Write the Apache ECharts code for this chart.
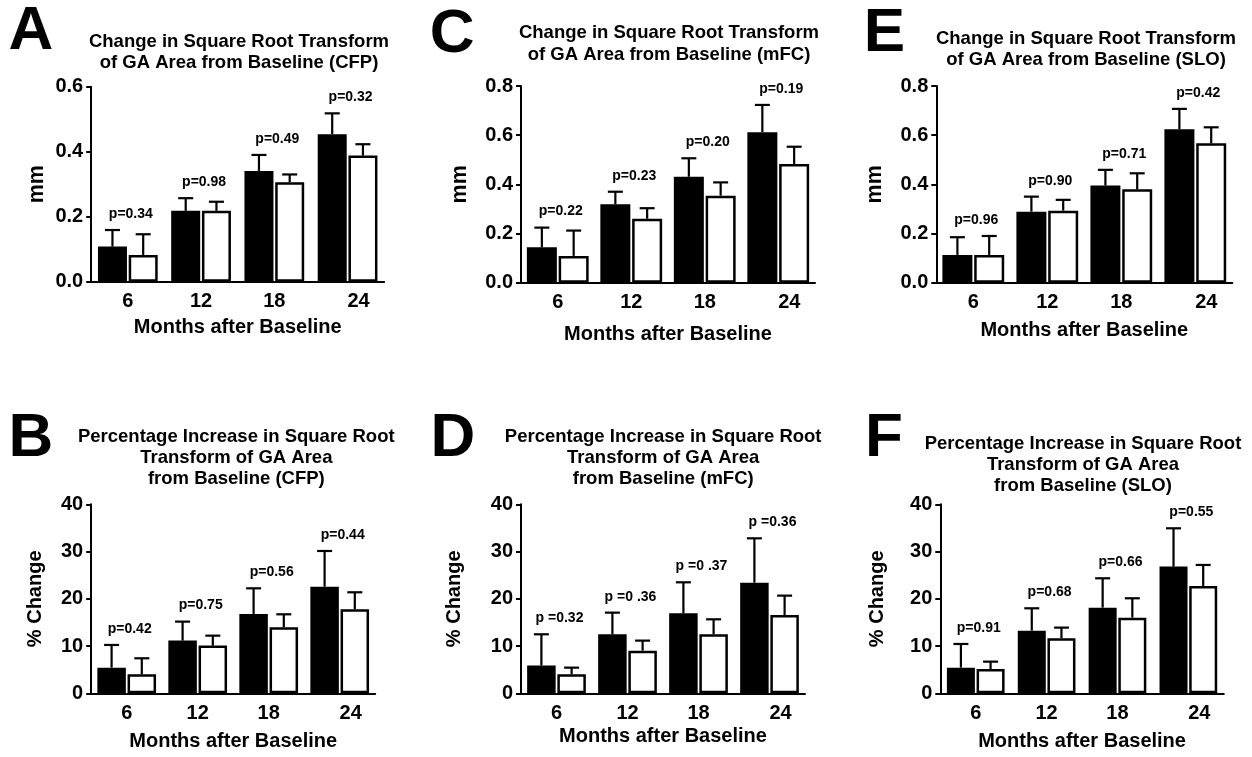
<!DOCTYPE html>
<html><head><meta charset="utf-8">
<script src="https://cdn.jsdelivr.net/npm/echarts@6/dist/echarts.min.js"></script>
<style>html,body{margin:0;padding:0;background:#fff}#c{width:1252px;height:757px}</style>
</head><body><div id="c"></div>
<script>
// ---------- DATA ----------
const months = ['6', '12', '18', '24'];

// Panel A: Change in sqrt GA area (CFP), mm
const aBlack   = [0.108, 0.218, 0.341, 0.454];
const aBlackSD = [0.051, 0.039, 0.049, 0.064];
const aWhite   = [0.082, 0.218, 0.306, 0.388];
const aWhiteSD = [0.064, 0.028, 0.024, 0.035];
const aP = ['p=0.34', 'p=0.98', 'p=0.49', 'p=0.32'];

// Panel C: (mFC), mm
const cBlack   = [0.144, 0.319, 0.431, 0.612];
const cBlackSD = [0.080, 0.051, 0.075, 0.111];
const cWhite   = [0.109, 0.260, 0.354, 0.483];
const cWhiteSD = [0.103, 0.043, 0.054, 0.070];
const cP = ['p=0.22', 'p=0.23', 'p=0.20', 'p=0.19'];

// Panel E: (SLO), mm
const eBlack   = [0.113, 0.289, 0.395, 0.624];
const eBlackSD = [0.072, 0.061, 0.064, 0.083];
const eWhite   = [0.113, 0.293, 0.380, 0.567];
const eWhiteSD = [0.077, 0.044, 0.065, 0.065];
const eP = ['p=0.96', 'p=0.90', 'p=0.71', 'p=0.42'];

// Panel B: % change (CFP)
const bBlack   = [5.43, 11.15, 16.79, 22.57];
const bBlackSD = [4.80, 4.02, 5.43, 7.55];
const bWhite   = [4.02, 10.09, 13.97, 17.78];
const bWhiteSD = [3.39, 2.11, 2.75, 3.60];
const bP = ['p=0.42', 'p=0.75', 'p=0.56', 'p=0.44'];

// Panel D: % change (mFC)
const dBlack   = [5.86, 12.49, 16.93, 23.42];
const dBlackSD = [6.63, 4.58, 6.56, 9.38];
const dWhite   = [4.02, 9.03, 12.49, 16.58];
const dWhiteSD = [1.41, 2.12, 3.17, 4.09];
const dP = ['p =0.32', 'p =0 .36', 'p =0 .37', 'p =0.36'];

// Panel F: % change (SLO)
const fBlack   = [5.43, 13.26, 18.13, 26.81];
const fBlackSD = [5.01, 4.73, 6.21, 8.11];
const fWhite   = [5.15, 11.64, 16.01, 22.72];
const fWhiteSD = [1.55, 2.26, 4.10, 4.44];
const fP = ['p=0.91', 'p=0.68', 'p=0.66', 'p=0.55'];

const titleTop = 'Change in Square Root Transform\nof GA Area from Baseline ';
const titleBot = 'Percentage Increase in Square Root\nTransform of GA Area\nfrom Baseline ';
const xName = 'Months after Baseline';

// ---------- LAYOUT ----------
const FONT = '"Liberation Sans", Arial, Helvetica, sans-serif';
const panels = [
  {letter:'A', title: titleTop + '(CFP)', black:aBlack, blackSD:aBlackSD, white:aWhite, whiteSD:aWhiteSD, p:aP,
   grid:{left:91.2, top:86.7, width:293, height:195}, max:0.6, interval:0.2, dec:1, yName:'mm', ySize:21.5, yGap:43, xGap:36,
   tx:239, ty:52.5, lx:30.8, ly:32.2, bw:29},
  {letter:'C', title: titleTop + '(mFC)', black:cBlack, blackSD:cBlackSD, white:cWhite, whiteSD:cWhiteSD, p:cP,
   grid:{left:521, top:86, width:294, height:196.7}, max:0.8, interval:0.2, dec:1, yName:'mm', ySize:21.5, yGap:50, xGap:41.6,
   tx:669, ty:43.8, lx:452.2, ly:34.5, bw:30},
  {letter:'E', title: titleTop + '(SLO)', black:eBlack, blackSD:eBlackSD, white:eWhite, whiteSD:eWhiteSD, p:eP,
   grid:{left:936.3, top:86, width:296, height:196.7}, max:0.8, interval:0.2, dec:1, yName:'mm', ySize:21.5, yGap:50, xGap:38,
   tx:1086, ty:49.2, lx:884.5, ly:34.3, bw:30},
  {letter:'B', title: titleBot + '(CFP)', black:bBlack, blackSD:bBlackSD, white:bWhite, whiteSD:bWhiteSD, p:bP,
   grid:{left:91.2, top:504.3, width:284, height:189}, max:40, interval:10, dec:0, yName:'% Change', ySize:20, yGap:45.7, xGap:38,
   tx:236.3, ty:458, lx:31, ly:438.8, bw:28.5},
  {letter:'D', title: titleBot + '(mFC)', black:dBlack, blackSD:dBlackSD, white:dWhite, whiteSD:dWhiteSD, p:dP,
   grid:{left:521, top:504.3, width:284, height:189}, max:40, interval:10, dec:0, yName:'% Change', ySize:20, yGap:57, xGap:33,
   tx:663.2, ty:458, lx:453, ly:439, bw:28.5},
  {letter:'F', title: titleBot + '(SLO)', black:fBlack, blackSD:fBlackSD, white:fWhite, whiteSD:fWhiteSD, p:fP,
   grid:{left:940.3, top:504.3, width:283.5, height:189}, max:40, interval:10, dec:0, yName:'% Change', ySize:20, yGap:53, xGap:38,
   tx:1083, ty:464.8, lx:884, ly:438.5, bw:28}
];

const GAP = 0.06;
const grids = [], xAxes = [], yAxes = [], series = [], graphics = [];

panels.forEach((pn, k) => {
  grids.push(Object.assign({outerBoundsMode:'none', containLabel:false}, pn.grid));
  xAxes.push({
    type:'category', gridIndex:k, data:months,
    axisLine:{show:true, lineStyle:{color:'#000', width:2}},
    axisTick:{show:false},
    axisLabel:{color:'#000', fontFamily:FONT, fontWeight:'bold', fontSize:20, margin:10, interval:0, hideOverlap:false,
      formatter:(v, i) => i === 3 ? '{o|' + v + '}' : v,
      rich:{o:{padding:[0,0,0,22], color:'#000', fontFamily:FONT, fontWeight:'bold', fontSize:20}}},
    name:xName, nameLocation:'middle', nameGap:pn.xGap,
    nameTextStyle:{color:'#000', fontFamily:FONT, fontWeight:'bold', fontSize:20}
  });
  yAxes.push({
    type:'value', gridIndex:k, min:0, max:pn.max, interval:pn.interval,
    axisLine:{show:true, lineStyle:{color:'#000', width:2}},
    axisTick:{show:true, length:5, lineStyle:{color:'#000', width:2}},
    splitLine:{show:false},
    axisLabel:{color:'#000', fontFamily:FONT, fontWeight:'bold', fontSize:20, margin:8,
      formatter:v => v.toFixed(pn.dec)},
    name:pn.yName, nameLocation:'middle', nameGap:pn.yGap, nameRotate:90,
    nameTextStyle:{color:'#000', fontFamily:FONT, fontWeight:'bold', fontSize:pn.ySize}
  });
  const off = pn.bw * (1 + GAP) / 2;
  series.push({type:'bar', xAxisIndex:k, yAxisIndex:k, data:pn.black, barWidth:pn.bw, barGap:(GAP*100)+'%',
    itemStyle:{color:'#000', borderColor:'#000', borderWidth:2}, silent:true, z:2});
  series.push({type:'bar', xAxisIndex:k, yAxisIndex:k, data:pn.white, barWidth:pn.bw, barGap:(GAP*100)+'%',
    itemStyle:{color:'#fff', borderColor:'#000', borderWidth:2.5}, silent:true, z:2});
  const mkErr = (means, sds, sign) => ({
    type:'custom', xAxisIndex:k, yAxisIndex:k, z:3, silent:true, clip:false,
    data: means.map((m, i) => [i, m, m + sds[i]]),
    renderItem:(params, api) => {
      const i = api.value(0);
      const b = api.coord([i, api.value(1)]);
      const t = api.coord([i, api.value(2)]);
      const x = b[0] + sign * off;
      return {type:'group', children:[
        {type:'line', shape:{x1:x, y1:b[1], x2:x, y2:t[1]}, style:{stroke:'#000', lineWidth:2.2}},
        {type:'line', shape:{x1:x-7.5, y1:t[1], x2:x+7.5, y2:t[1]}, style:{stroke:'#000', lineWidth:2.2}}
      ]};
    }
  });
  series.push(mkErr(pn.black, pn.blackSD, -1));
  series.push(mkErr(pn.white, pn.whiteSD, 1));
  series.push({
    type:'custom', xAxisIndex:k, yAxisIndex:k, z:4, silent:true, clip:false,
    data: pn.black.map((m, i) => [i, Math.max(m + pn.blackSD[i], pn.white[i] + pn.whiteSD[i])]),
    renderItem:(params, api) => {
      const c = api.coord([api.value(0), api.value(1)]);
      return {type:'text', x:c[0] + 3, y:c[1] - 16,
        style:{text:pn.p[params.dataIndex], align:'center', verticalAlign:'middle',
          font:'bold 14px ' + FONT, fill:'#000'}};
    }
  });
  graphics.push({type:'text', x:pn.tx, y:pn.ty, silent:true,
    style:{text:pn.title, align:'center', verticalAlign:'middle', font:'bold 18.5px ' + FONT, fill:'#000', lineHeight:21.3}});
  graphics.push({type:'text', x:pn.lx, y:pn.ly, silent:true,
    style:{text:pn.letter, align:'center', verticalAlign:'middle', font:'bold 62px ' + FONT, fill:'#000'}});
});

const chart = echarts.init(document.getElementById('c'), null, {renderer:'canvas'});
chart.setOption({
  backgroundColor:'#fff', animation:false,
  grid:grids, xAxis:xAxes, yAxis:yAxes, series:series, graphic:graphics
});
</script>
</body></html>
